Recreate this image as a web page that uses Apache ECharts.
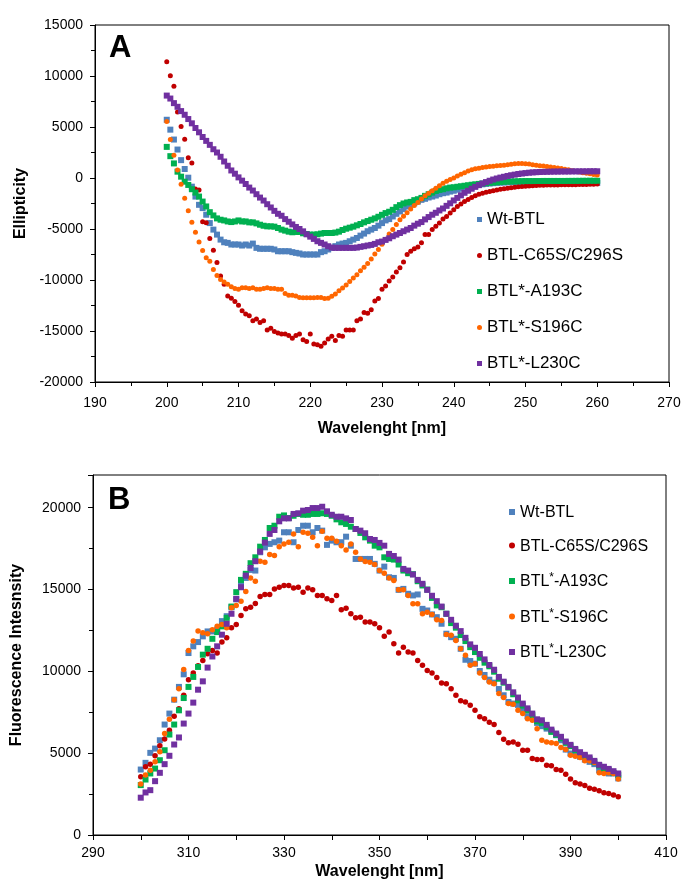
<!DOCTYPE html>
<html>
<head>
<meta charset="utf-8">
<script src="https://cdn.jsdelivr.net/npm/echarts@6/dist/echarts.min.js"></script>
<style>
html, body { margin: 0; padding: 0; background: #fff; }
#chart { width: 684px; height: 891px; }
</style>
</head>
<body>
<div id="chart"></div>
<script>
// series names / colours / marker shapes, same order as the legends
const names = ['Wt-BTL', 'BTL-C65S/C296S', 'BTL*-A193C', 'BTL*-S196C', 'BTL*-L230C'];
const colors = ['#4F81BD', '#C00000', '#00B050', '#FF6600', '#7030A0'];
const shapes = ['rect', 'circle', 'rect', 'circle', 'rect'];

// panel A: CD spectra, 200-260 nm every 0.5 nm
const waveA = [];
for (let w = 200; w <= 260; w += 0.5) waveA.push(w);

const ellWt = [5710,4740,3770,2790,1750,880,30,-850,-1820,-2630,
  -2950,-3600,-4420,-5060,-5550,-6040,-6300,-6360,-6520,-6520,
  -6520,-6620,-6520,-6620,-6430,-6850,-6940,-6940,-6940,-6940,
  -7010,-7180,-7180,-7180,-7180,-7270,-7340,-7400,-7500,-7500,
  -7500,-7500,-7500,-7270,-7180,-7010,-6850,-6680,-6520,-6430,
  -6360,-6200,-6040,-5880,-5650,-5450,-5220,-5060,-4900,-4670,
  -4420,-4160,-4030,-3770,-3510,-3280,-3050,-2790,-2630,-2470,
  -2310,-2140,-2040,-1910,-1820,-1720,-1590,-1490,-1430,-1330,
  -1250,-1150,-1050,-950,-870,-800,-730,-670,-620,-580,
  -540,-510,-480,-460,-440,-420,-410,-400,-390,-380,
  -380,-380,-380,-380,-385,-390,-390,-395,-400,-400,
  -405,-410,-420,-425,-430,-440,-450,-455,-465,-470,
  -480];
const ellC65S = [11400,10030,8990,6460,5060,3800,1980,1460,-1070,-1170,
  -4290,-4390,-5940,-7080,-8280,-9610,-10420,-11560,-11790,-12100,
  -12470,-13020,-13340,-13510,-14000,-13830,-14160,-14000,-14900,-14740,
  -15060,-15200,-15290,-15290,-15450,-15710,-15450,-15290,-15870,-16040,
  -15290,-16270,-16360,-16500,-16170,-15780,-15520,-15940,-15450,-15520,
  -14900,-14900,-14900,-14000,-13830,-13180,-13250,-12920,-12050,-11820,
  -10910,-10580,-10100,-9710,-9220,-8790,-8240,-7500,-7180,-6940,
  -6760,-6360,-5550,-5550,-5060,-4740,-4420,-4020,-3770,-3440,
  -3120,-2800,-2550,-2300,-2100,-1900,-1750,-1600,-1500,-1400,
  -1320,-1240,-1170,-1100,-1050,-1000,-950,-900,-870,-840,
  -800,-780,-750,-740,-720,-700,-690,-690,-680,-680,
  -670,-660,-660,-650,-650,-640,-630,-630,-620,-610,
  -600];
const ellA193C = [3050,2140,1430,620,130,-360,-680,-1100,-1430,-1820,
  -2310,-2790,-3350,-3670,-3960,-4090,-4160,-4260,-4320,-4260,
  -4160,-4260,-4260,-4350,-4350,-4450,-4580,-4680,-4740,-4740,
  -4770,-4900,-5060,-5160,-5260,-5320,-5290,-5290,-5420,-5490,
  -5550,-5550,-5520,-5450,-5390,-5390,-5390,-5350,-5260,-5100,
  -4970,-4870,-4770,-4640,-4510,-4350,-4220,-4090,-3960,-3800,
  -3610,-3440,-3310,-3120,-2860,-2660,-2500,-2400,-2340,-2170,
  -2080,-1950,-1750,-1590,-1430,-1270,-1170,-1100,-1010,-940,
  -910,-860,-810,-760,-710,-660,-620,-580,-540,-500,
  -470,-440,-410,-390,-370,-350,-340,-330,-320,-310,
  -300,-300,-300,-295,-295,-290,-290,-290,-290,-290,
  -290,-290,-285,-285,-280,-280,-275,-275,-270,-270,
  -270];
const ellS196C = [5550,3770,2240,780,-620,-1980,-3210,-4350,-5320,-6270,
  -7110,-7830,-8150,-8960,-9550,-9940,-10200,-10420,-10650,-10840,
  -10910,-10750,-10750,-10840,-10750,-10910,-10910,-10840,-10750,-10840,
  -10840,-10910,-10910,-11330,-11490,-11490,-11560,-11720,-11750,-11750,
  -11750,-11750,-11720,-11720,-11820,-11780,-11600,-11370,-11050,-10780,
  -10480,-10150,-9810,-9480,-9100,-8750,-8380,-7950,-7450,-7000,
  -6500,-6000,-5500,-5050,-4550,-4100,-3750,-3400,-3050,-2700,
  -2400,-2050,-1750,-1500,-1250,-1000,-750,-520,-330,-150,
  0,200,370,520,680,800,900,960,1020,1070,
  1120,1160,1190,1230,1260,1300,1350,1400,1430,1420,
  1400,1380,1300,1260,1200,1170,1130,1090,1040,980,
  920,870,800,720,640,580,520,470,410,350,
  300];
const ellL230C = [8080,7790,7340,6980,6560,6200,5780,5360,4900,4480,
  4020,3640,3250,2820,2500,2080,1620,1200,740,420,
  60,-260,-590,-940,-1230,-1590,-1920,-2210,-2570,-2890,
  -3220,-3510,-3700,-4030,-4290,-4550,-4800,-5000,-5230,-5520,
  -5750,-5970,-6200,-6360,-6520,-6690,-6820,-6850,-6850,-6850,
  -6850,-6850,-6850,-6820,-6750,-6690,-6620,-6560,-6460,-6300,
  -6230,-6070,-5910,-5710,-5550,-5390,-5220,-5060,-4900,-4670,
  -4480,-4320,-4060,-3830,-3600,-3410,-3180,-2990,-2730,-2480,
  -2200,-1950,-1700,-1450,-1250,-1050,-870,-700,-540,-400,
  -270,-150,-50,40,120,200,270,330,390,440,
  480,520,550,570,590,600,610,620,630,630,
  640,640,640,650,650,650,650,650,660,660,
  660];

// panel B: fluorescence spectra, 300-400 nm every 1 nm
const waveB = [];
for (let w = 300; w <= 400; w++) waveB.push(w);

const fluWt = [4000,4410,5020,5280,5790,6750,7420,8270,9050,9820,
  11120,11530,11790,12140,12440,12440,12540,13070,13370,13920,
  14400,15390,15710,16200,16160,17280,17580,17790,17890,17990,
  18500,18500,17890,18640,18900,18900,18500,18760,18600,17730,
  17990,17890,17890,18230,17680,16870,16870,16870,16870,16570,
  16160,16400,15750,15710,14980,15040,14740,14640,14700,13820,
  13720,13480,13310,12910,12300,12090,11990,11380,10710,10630,
  10470,10020,9780,9490,9310,8920,8540,8130,8030,7950,
  7620,7260,7180,6850,6650,6500,6360,6100,5790,5220,
  4980,4940,4780,4610,4470,4330,3960,3860,3760,3760,
  3460];
const fluC65S = [3560,4170,4330,4840,5450,5870,6400,7260,7720,8540,
  9490,9900,10350,10670,11080,11280,11120,11790,12050,12670,
  12870,13420,13820,13920,14140,14570,14700,14700,15040,15140,
  15250,15250,15100,15140,14840,15100,14980,14640,14640,14430,
  14330,14640,13760,13860,13520,13270,13310,13010,13010,12910,
  12670,12140,12400,11690,11120,11480,11180,11120,10670,10370,
  10060,9900,9620,9290,9250,8940,8540,8210,8130,7930,
  7620,7220,7110,6890,6750,6260,5850,5630,5690,5550,
  5180,5180,4680,4610,4610,4270,4230,4000,3960,3720,
  3420,3190,3110,3030,2850,2800,2700,2580,2540,2440,
  2340];
const fluA193C = [3050,3390,3760,4060,4570,5180,6140,6750,7620,8370,
  9050,9660,10270,11020,11380,11990,12400,12750,13270,13960,
  14840,15590,15960,16610,16970,17620,18030,18760,18900,19450,
  19530,19370,19510,19620,19570,19570,19620,19620,19660,19620,
  19510,19290,19110,19010,18840,18700,18460,18190,17990,17680,
  17580,16970,16870,16830,16530,16160,16000,15940,15510,15250,
  15000,14490,14030,13920,13520,12950,12670,12220,11850,11480,
  11180,10830,10530,10310,9980,9550,9310,9010,8600,8230,
  7910,7620,7320,6950,6850,6590,6300,6120,5910,5630,
  5430,5180,4980,4820,4630,4450,4250,4040,3960,3800,
  3660];
const fluS196C = [3110,3660,3960,4470,5080,6200,7070,8270,8940,10120,
  11280,11850,12460,12360,12300,12540,12750,12870,12670,13880,
  14030,14290,14880,15710,15510,16730,16670,17140,17080,17620,
  17790,17890,18400,17620,18500,18440,18190,17680,18560,18130,
  18130,17950,17680,17420,17790,17280,16870,16710,16670,16530,
  16160,16000,15710,15550,14980,14980,14640,14130,14130,13520,
  13620,13480,13150,13110,12260,12200,11890,11380,10980,10370,
  10470,9900,9620,9350,9250,8640,8400,8030,7990,7620,
  7420,7110,7010,6500,5790,5690,5630,5590,5350,5220,
  4880,4820,4740,4530,4530,4430,3800,3760,3800,3760,
  3420];
const fluL230C = [2280,2600,2740,3290,3800,4330,4840,5530,5960,6810,
  7420,8090,8880,9390,10230,10910,11530,12240,12910,13520,
  14430,15140,15850,16320,16730,17320,17870,18400,18640,19170,
  19350,19350,19620,19660,19820,19860,19980,19980,20060,19780,
  19570,19450,19450,19350,19250,18700,18600,18440,18090,18030,
  17850,17680,17180,17050,16830,16260,16160,15920,15590,15350,
  14980,14620,14290,13960,13520,13150,12790,12460,12050,11650,
  11440,11060,10730,10390,10100,9660,9370,9050,8720,8400,
  8030,7740,7420,7070,7010,6730,6440,6200,6000,5710,
  5510,5260,5060,4900,4740,4530,4290,4170,4040,3900,
  3760];

const seriesA = [ellWt, ellC65S, ellA193C, ellS196C, ellL230C];
const seriesB = [fluWt, fluC65S, fluA193C, fluS196C, fluL230C];

const FONT = '"Liberation Sans", Arial, sans-serif';
const BLACK = '#000';

function pairs(xs, ys) {
  return ys.map((v, i) => [xs[i], v]);
}

function axisBase(extra) {
  return Object.assign({
    type: 'value',
    axisLine: { show: true, onZero: false, lineStyle: { color: BLACK, width: 1 } },
    axisTick: { show: true, inside: false, length: 5, lineStyle: { color: BLACK } },
    splitLine: { show: false },
    nameLocation: 'middle',
    nameTextStyle: { fontFamily: FONT, fontWeight: 'bold', fontSize: 16, color: BLACK },
    axisLabel: { fontFamily: FONT, fontSize: 14, color: BLACK }
  }, extra);
}

const series = [];
names.forEach((n, i) => {
  const sq = shapes[i] === 'rect';
  series.push({
    type: 'scatter', name: n, xAxisIndex: 0, yAxisIndex: 0,
    data: pairs(waveA, seriesA[i]),
    symbol: shapes[i], symbolSize: sq ? 6 : 5,
    itemStyle: { color: colors[i], opacity: 1 },
    silent: true
  });
});
names.forEach((n, i) => {
  const sq = shapes[i] === 'rect';
  series.push({
    type: 'scatter', name: n, xAxisIndex: 1, yAxisIndex: 1,
    data: pairs(waveB, seriesB[i]),
    symbol: shapes[i], symbolSize: sq ? 6 : 5.5,
    itemStyle: { color: colors[i], opacity: 1 },
    silent: true
  });
});

const legendItems = names.map((n, i) => ({ name: n, icon: shapes[i] }));
const plain = v => String(v);

const option = {
  animation: false,
  backgroundColor: '#fff',
  textStyle: { fontFamily: FONT },
  title: [
    { text: 'A', left: 109, top: 33, padding: 0,
      textStyle: { fontFamily: FONT, fontSize: 31, fontWeight: 'bold', color: BLACK } },
    { text: 'B', left: 108, top: 485, padding: 0,
      textStyle: { fontFamily: FONT, fontSize: 31, fontWeight: 'bold', color: BLACK } }
  ],
  grid: [
    { left: 95, top: 25, width: 574, height: 357, show: true, borderColor: BLACK, borderWidth: 1,
      backgroundColor: 'transparent', containLabel: false, outerBoundsMode: 'none' },
    { left: 93, top: 475, width: 573, height: 360, show: true, borderColor: BLACK, borderWidth: 1,
      backgroundColor: 'transparent', containLabel: false, outerBoundsMode: 'none' }
  ],
  legend: [
    {
      orient: 'vertical', left: 472, top: 206, itemWidth: 5, itemHeight: 5, itemGap: 19,
      selectedMode: false, data: legendItems,
      textStyle: { fontFamily: FONT, fontSize: 17, color: BLACK }
    },
    {
      orient: 'vertical', left: 504, top: 500, itemWidth: 6, itemHeight: 6, itemGap: 17.5,
      selectedMode: false, data: legendItems,
      formatter: n => n.indexOf('BTL*') === 0
        ? '{a|BTL}{s|*}{a|' + n.slice(4) + '}'
        : '{a|' + n + '}',
      textStyle: {
        fontFamily: FONT, fontSize: 16, color: BLACK,
        rich: {
          a: { fontFamily: FONT, fontSize: 16, color: BLACK, lineHeight: 18, verticalAlign: 'bottom' },
          s: { fontFamily: FONT, fontSize: 12, color: BLACK, lineHeight: 18, verticalAlign: 'top' }
        }
      }
    }
  ],
  xAxis: [
    axisBase({
      gridIndex: 0, min: 190, max: 270, interval: 10,
      minorTick: { show: true, splitNumber: 2, length: 4, lineStyle: { color: BLACK } },
      name: 'Wavelenght [nm]', nameGap: 39,
      axisLabel: { fontFamily: FONT, fontSize: 14, color: BLACK, margin: 14, formatter: plain }
    }),
    axisBase({
      gridIndex: 1, min: 290, max: 410, interval: 10,
      name: 'Wavelenght [nm]', nameGap: 29,
      axisLabel: {
        fontFamily: FONT, fontSize: 14, color: BLACK, margin: 11,
        formatter: v => ((v - 290) % 20 === 0 ? String(v) : '')
      }
    })
  ],
  yAxis: [
    axisBase({
      gridIndex: 0, min: -20000, max: 15000, interval: 5000,
      minorTick: { show: true, splitNumber: 2, length: 4, lineStyle: { color: BLACK } },
      name: 'Ellipticity', nameGap: 58,
      axisLabel: { fontFamily: FONT, fontSize: 14, color: BLACK, margin: 12, formatter: plain }
    }),
    axisBase({
      gridIndex: 1, min: 0, max: 22000, interval: 5000,
      minorTick: { show: true, splitNumber: 2, length: 4, lineStyle: { color: BLACK } },
      name: 'Fluorescence Intesnsity', nameGap: 68,
      axisLabel: {
        fontFamily: FONT, fontSize: 14, color: BLACK, margin: 12,
        formatter: v => (v % 5000 === 0 ? String(v) : '')
      }
    })
  ],
  series: series
};

const chart = echarts.init(document.getElementById('chart'), null, { renderer: 'canvas' });
chart.setOption(option);
</script>
</body>
</html>
